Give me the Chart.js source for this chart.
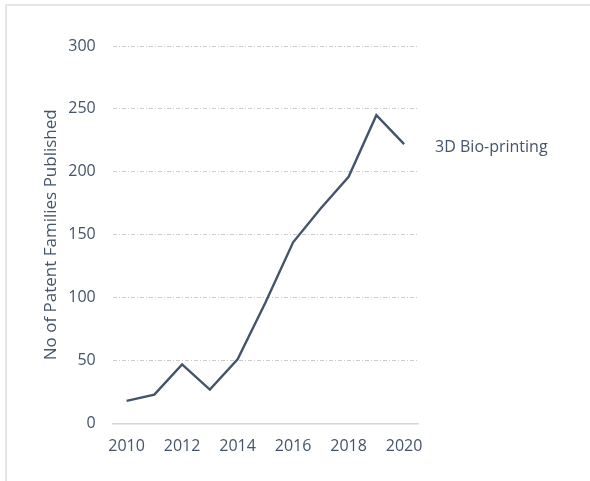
<!DOCTYPE html>
<html lang="en">
<head>
    <meta charset="UTF-8">
    <title>3D Bio-printing patent families</title>
    <script src="https://cdn.jsdelivr.net/npm/chart.js"></script>
    <style>
        html, body {
            margin: 0;
            padding: 0;
            background: #fff;
        }
        .frame {
            position: absolute;
            left: 5px;
            top: 4px;
            width: 600px;
            height: 500px;
            border-top: 2px solid #e6e6e6;
            border-left: 2px solid #e6e6e6;
        }
        .chart-box {
            position: absolute;
            left: 0;
            top: 0;
            width: 590px;
            height: 481px;
        }
    </style>
</head>
<body>
    <div class="frame"></div>
    <div class="chart-box">
        <canvas id="myChart" width="590" height="481"></canvas>
    </div>

    <script>
        // publication years and patent family counts
        const years = ['2010', '2011', '2012', '2013', '2014', '2015', '2016', '2017', '2018', '2019', '2020'];
        const patentFamilies = [18, 23, 47, 27, 51, 96, 144, 171, 196, 245, 222];
        const seriesName = '3D Bio-printing';

        // axis labels
        const xTickLabels = ['2010', '2012', '2014', '2016', '2018', '2020'];
        const yTicks = [0, 50, 100, 150, 200, 250, 300];

        const textColor = '#44546a';
        const gridColor = '#cccccc';

        // writes the series name just right of the last point
        const endLabel = {
            id: 'endLabel',
            afterDatasetsDraw(chart) {
                const meta = chart.getDatasetMeta(0);
                const last = meta.data[meta.data.length - 1];
                const ctx = chart.ctx;
                ctx.save();
                ctx.font = '16px "Open Sans"';
                ctx.fillStyle = textColor;
                ctx.textAlign = 'left';
                ctx.textBaseline = 'alphabetic';
                ctx.fillText(chart.data.datasets[0].label, last.x + 31, last.y + 8);
                ctx.restore();
            }
        };

        function initChart() {
            const ctx = document.getElementById('myChart').getContext('2d');
            new Chart(ctx, {
                type: 'line',
                data: {
                    labels: years,
                    datasets: [{
                        label: seriesName,
                        data: patentFamilies,
                        borderColor: textColor,
                        borderWidth: 2.4,
                        pointRadius: 0,
                        tension: 0,
                        fill: false
                    }]
                },
                options: {
                    responsive: false,
                    animation: false,
                    layout: {
                        padding: { left: 34, top: 46, right: 172, bottom: 0 }
                    },
                    scales: {
                        x: {
                            offset: true,
                            grid: { display: false, drawTicks: false },
                            border: { display: true, color: '#d6d6d6', width: 1.5 },
                            ticks: {
                                autoSkip: false,
                                maxRotation: 0,
                                padding: 13,
                                color: textColor,
                                font: { family: 'Open Sans', size: 16 },
                                callback: function(value) {
                                    const label = this.getLabelForValue(value);
                                    return xTickLabels.includes(label) ? label : '';
                                }
                            },
                            afterFit: function(scale) {
                                scale.height = 57.5;
                            }
                        },
                        y: {
                            min: yTicks[0],
                            max: yTicks[yTicks.length - 1],
                            afterBuildTicks: function(scale) {
                                scale.ticks = yTicks.map(v => ({ value: v }));
                            },
                            grid: {
                                drawTicks: false,
                                lineWidth: 1,
                                color: c => c.tick && c.tick.value === 0 ? 'rgba(0,0,0,0)' : gridColor
                            },
                            border: { display: false, dash: [4, 2, 1, 2] },
                            ticks: {
                                padding: 17,
                                color: textColor,
                                font: { family: 'Open Sans', size: 16 }
                            },
                            title: {
                                display: true,
                                text: 'No of Patent Families Published',
                                color: textColor,
                                font: { family: 'Open Sans', size: 17 },
                                padding: { top: 7, bottom: 0 }
                            },
                            afterFit: function(scale) {
                                scale.width = 78.7;
                            }
                        }
                    },
                    plugins: {
                        legend: { display: false },
                        tooltip: { enabled: false }
                    }
                },
                plugins: [endLabel]
            });
        }

        window.onload = initChart;
    </script>
</body>
</html>
